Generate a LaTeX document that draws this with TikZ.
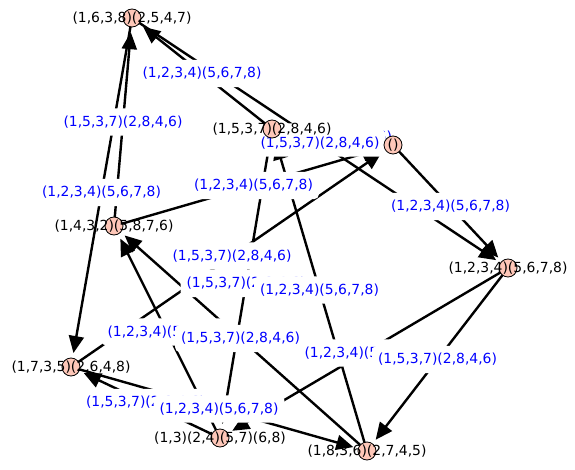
\documentclass[tikz,border=0pt]{standalone}
\usepackage{fontspec}
\setmainfont{DejaVu Sans}
\usetikzlibrary{arrows.meta}
\definecolor{vfill}{HTML}{FEC7B8}
\newcommand\GenI{(1,2,3,4)(5,6,7,8)}
\newcommand\GenJ{(1,5,3,7)(2,8,4,6)}
\begin{document}
\begin{tikzpicture}[x=1pt,y=-1pt,
  anchorpt/.style={circle,minimum size=28pt,inner sep=0pt,draw=none},
  vert/.style={circle,minimum size=18pt,inner sep=0pt,draw=black,line width=0.8pt,fill=vfill},
  vlabel/.style={font=\fontsize{13.9}{16}\selectfont,text=black,inner sep=0pt},
  elabel/.style={font=\fontsize{13.9}{16}\selectfont,text=blue,fill=white,inner xsep=6pt,inner ysep=7.5pt,rounded corners=5pt},
  cedge/.style={line width=2.4pt,-{Triangle[length=17pt,width=15pt]}}]
\useasboundingbox (0,0) rectangle (575,470);
% anchor nodes (invisible)
\node[anchorpt] (E) at (393,145) {};
\node[anchorpt] (D) at (508,268) {};
\node[anchorpt] (B) at (272,129) {};
\node[anchorpt] (A) at (132,18) {};
\node[anchorpt] (C) at (114,226) {};
\node[anchorpt] (F) at (71,367) {};
\node[anchorpt] (G) at (220,438) {};
\node[anchorpt] (H) at (367,451) {};
% edges
\draw[cedge] (E.center) -- (D);
\draw[cedge] (D.center) -- (G);
\draw[cedge] (G.center) -- (C);
\draw[cedge] (C.center) -- (E);
\draw[cedge] (B.center) -- (A);
\draw[cedge] (A.center) -- (F);
\draw[cedge] (F.center) -- (H);
\draw[cedge] (H.center) -- (B);
\draw[cedge] (E.center) -- (B);
\draw[cedge] (B.center) -- (G);
\draw[cedge] (G.center) -- (F);
\draw[cedge] (F.center) -- (E);
\draw[cedge] (D.center) -- (H);
\draw[cedge] (H.center) -- (C);
\draw[cedge] (C.center) -- (A);
\draw[cedge] (A.center) -- (D);
% edge labels
\path (E.center) -- (B.center) node[elabel,midway] (lEB) {\GenJ};
\path (A.center) -- (D.center) node[elabel,midway] (lAD) {\GenJ};
\path (E.center) -- (D.center) node[elabel,midway] (lED) {\GenI};
\path (D.center) -- (G.center) node[elabel,midway] (lDG) {\GenI};
\path (D.center) -- (H.center) node[elabel,midway] (lDH) {\GenJ};
\path (G.center) -- (C.center) node[elabel,midway] (lGC) {\GenI};
\path (H.center) -- (C.center) node[elabel,midway] (lHC) {\GenJ};
\path (C.center) -- (E.center) node[elabel,midway] (lCE) {\GenI};
\path (B.center) -- (A.center) node[elabel,midway] (lBA) {\GenI};
\path (A.center) -- (F.center) node[elabel,midway] (lAF) {\GenI};
\path (C.center) -- (A.center) node[elabel,midway] (lCA) {\GenJ};
\path (F.center) -- (E.center) node[elabel,midway] (lFE) {\GenJ};
\path (B.center) -- (G.center) node[elabel,midway] (lBG) {\GenJ};
\path (H.center) -- (B.center) node[elabel,midway] (lHB) {\GenI};
\path (G.center) -- (F.center) node[elabel,midway] (lGF) {\GenJ};
\path (F.center) -- (H.center) node[elabel,midway] (lFH) {\GenI};
% vertices
\node[vert] (vE) at (E) {};
\node[vert] (vD) at (D) {};
\node[vert] (vB) at (B) {};
\node[vert] (vA) at (A) {};
\node[vert] (vC) at (C) {};
\node[vert] (vF) at (F) {};
\node[vert] (vG) at (G) {};
\node[vert] (vH) at (H) {};
\node[vlabel] (tE) at (E) {()};
\node[vlabel] (tD) at (D) {(1,2,3,4)(5,6,7,8)};
\node[vlabel] (tB) at (B) {(1,5,3,7)(2,8,4,6)};
\node[vlabel] (tA) at (A) {(1,6,3,8)(2,5,4,7)};
\node[vlabel] (tC) at (C) {(1,4,3,2)(5,8,7,6)};
\node[vlabel] (tF) at (F) {(1,7,3,5)(2,6,4,8)};
\node[vlabel] (tG) at (G) {(1,3)(2,4)(5,7)(6,8)};
\node[vlabel] (tH) at (H) {(1,8,3,6)(2,7,4,5)};
\end{tikzpicture}
\end{document}
